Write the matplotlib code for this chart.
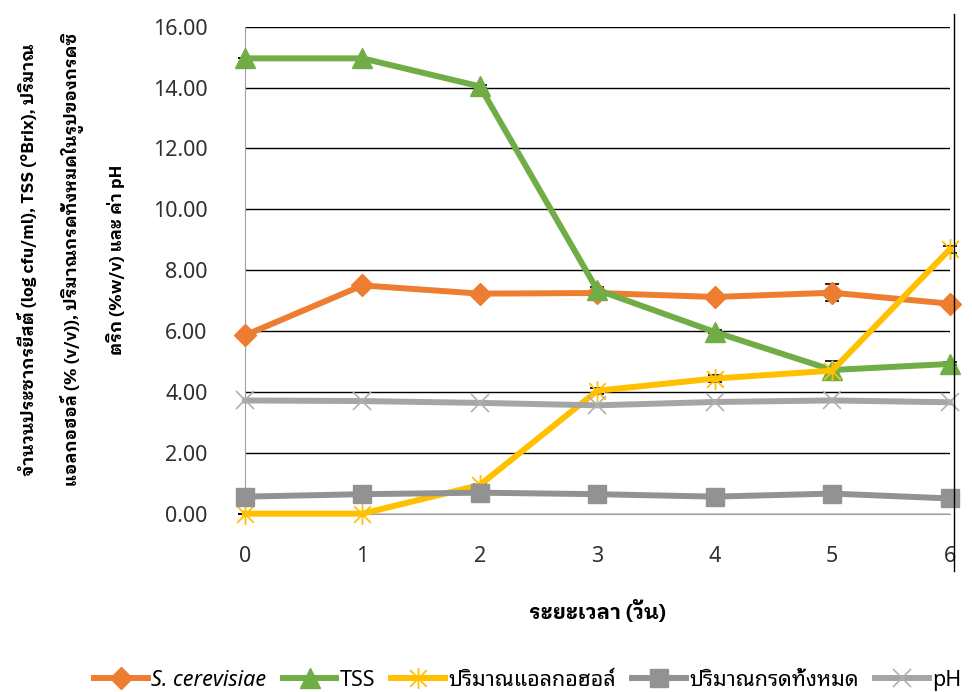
import matplotlib
matplotlib.use("Agg")
import matplotlib.pyplot as plt
from matplotlib.lines import Line2D
from matplotlib.path import Path

plt.rcParams['font.family'] = ['Noto Sans', 'Noto Sans Thai Looped', 'DejaVu Sans']
thai_bold = ['IBM Plex Sans Thai Looped', 'Noto Sans Thai Looped', 'DejaVu Sans']

days = [0, 1, 2, 3, 4, 5, 6]
yeast = [5.86, 7.50, 7.23, 7.25, 7.12, 7.26, 6.90]
yeast_err = [0.05, 0.05, 0.05, 0.05, 0.05, 0.28, 0.05]
tss = [14.96, 14.96, 14.04, 7.35, 5.97, 4.72, 4.92]
tss_err = [0.0, 0.0, 0.05, 0.1, 0.05, 0.30, 0.05]
alcohol = [0.0, 0.0, 0.94, 4.04, 4.44, 4.70, 8.68]
alcohol_err = [0.0, 0.0, 0.05, 0.1, 0.1, 0.1, 0.1]
acid = [0.56, 0.64, 0.69, 0.64, 0.56, 0.66, 0.50]
ph = [3.72, 3.70, 3.64, 3.56, 3.67, 3.72, 3.66]

labels = ['S. cerevisiae', 'TSS', 'ปริมาณแอลกอฮอล์', 'ปริมาณกรดทั้งหมด', 'pH']
ylabel = ('จำนวนประชากรยีสต์ (log cfu/ml), TSS (°Brix), ปริมาณ\n'
          'แอลกอฮอล์ (% (v/v)), ปริมาณกรดทั้งหมดในรูปของกรดซิ\n'
          'ตริก (%w/v) และ ค่า pH')
xlabel = 'ระยะเวลา (วัน)'

# asterisk marker: vertical stroke plus two diagonals
star = Path([(0, -1), (0, 1), (-0.8, -0.8), (0.8, 0.8), (-0.8, 0.8), (0.8, -0.8)],
            [Path.MOVETO, Path.LINETO, Path.MOVETO, Path.LINETO, Path.MOVETO, Path.LINETO])

fig = plt.figure(figsize=(9.72, 6.92), dpi=100)
ax = fig.add_axes([0.252, 0.2577, 0.725, 0.7037])

# error bars sit under the lines so only the caps show
for vals, err in [(yeast, yeast_err), (tss, tss_err), (alcohol, alcohol_err)]:
    ax.errorbar(days, vals, yerr=err, fmt='none', ecolor='black', elinewidth=1,
                capsize=5, capthick=1.2, zorder=2)

ax.plot(days, yeast, color='#ED7D31', lw=4.3, marker='D', ms=11, zorder=3, label=labels[0])
ax.plot(days, tss, color='#70AD47', lw=4.3, marker='^', ms=15, zorder=3, label=labels[1])
ax.plot(days, alcohol, color='#FFC000', lw=4.3, marker=star, ms=15, mew=1.3,
        mec='#FFC000', zorder=3, label=labels[2])
ax.plot(days, acid, color='#929292', lw=4.3, marker='s', ms=13, zorder=3, label=labels[3])
ax.plot(days, ph, color='#A5A5A5', lw=4.3, marker='x', ms=13, mew=1.2,
        mec='#B0B0B0', zorder=3, label=labels[4])

ax.set_xlim(0, 6)
ax.set_ylim(0, 16)
ax.set_xticks(days)
ax.set_yticks(range(0, 17, 2))
ax.set_yticklabels([f'{v:.2f}' for v in range(0, 17, 2)])
ax.yaxis.grid(True, color='black', lw=1)
ax.set_axisbelow(True)
for s in ['top', 'right']:
    ax.spines[s].set_visible(False)
ax.spines['left'].set_color('#A0A0A0')
ax.spines['bottom'].set_color('#A0A0A0')
ax.tick_params(length=0, labelsize=15.5, colors='#303030')
ax.tick_params(axis='y', pad=27)
ax.tick_params(axis='x', pad=23)
for ln in ax.lines:
    ln.set_clip_on(False)

ax.set_xlabel(xlabel, fontsize=15, fontweight='bold', family=thai_bold, labelpad=24)

fig.text(0.073, 0.625, ylabel, rotation=90, ha='center', va='center',
         multialignment='center', fontsize=12.5, fontweight='bold', family=thai_bold,
         linespacing=2.35)

# thin frame line on the right of the plot area
fig.add_artist(Line2D([0.981, 0.981], [0.175, 0.98], color='black', lw=1))

leg = fig.legend(loc='lower center', bbox_to_anchor=(0.543, -0.026), ncol=5, frameon=False,
                 prop={'size': 15.5}, handlelength=2.5, handletextpad=0.15,
                 columnspacing=0.75)
leg.get_texts()[0].set_style('italic')

fig.savefig('out.png')
